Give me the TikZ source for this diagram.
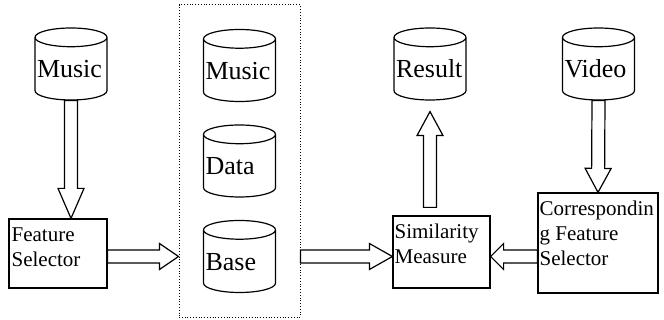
\documentclass[tikz,border=0pt]{standalone}
\usepackage{fontspec}
\setmainfont{Liberation Serif}
\newfontfamily\timesfont{Liberation Serif}
\usetikzlibrary{positioning,shapes.geometric,fit,calc}
\tikzset{
store/.style={
draw,
line width=1.2pt,
cylinder,
shape border rotate=90,
aspect=0.26,
anchor=shape center,
minimum width=72pt,
minimum height=72pt,
inner xsep=2pt,
text width=68pt,
align=left,
text height=14.6pt,
text depth=0pt,
font=\timesfont\fontsize{26}{30}\selectfont
},
block/.style={
draw,
line width=1.2pt
},
blocktext/.style={
align=left,
inner sep=0pt,
anchor=north west,
font=\timesfont\fontsize{21}{25}\selectfont
},
fat/.style={
draw,
line width=1.2pt,
fill=white,
line join=miter
}
}
% hollow block arrow from #2 to #3, head length #1
\newcommand{\fatarrow}[3][20]{%
\path[fat] let \p1=(#2), \p2=(#3),
\n1={atan2(\y2-\y1,\x2-\x1)}, \n2={veclen(\x2-\x1,\y2-\y1)} in
[shift={(\p1)}, rotate=\n1]
(0,-6.5) -- (\n2-#1,-6.5) -- (\n2-#1,-13) -- (\n2,0) -- (\n2-#1,13)
-- (\n2-#1,6.5) -- (0,6.5) -- cycle;}

\begin{document}
\begin{tikzpicture}[x=1pt,y=1pt]
\useasboundingbox (0,0) rectangle (664,320);

\node[store] (m1) at (71,256) {Music};
\node[store] (m2) at (239.5,254.5) {Music};
\node[store] (d) at (239.5,159) {Data};
\node[store] (b) at (239.5,63.5) {Base};
\node[store] (r) at (430,256) {Result};
\node[store] (v) at (598.5,256) {Video};
\node[draw, dotted, line width=0.8pt, inner sep=24pt, fit=(m2)(d)(b)] (dbase) {};

\node[block, minimum width=98pt, minimum height=69pt] (fs) at (58,66.5) {};
\node[block, minimum width=97pt, minimum height=72pt] (sim) at (441.5,68) {};
\node[block, minimum width=120pt, minimum height=100pt] (corr) at (598,77) {};
\node[blocktext] (fstext) at ($(fs.north west)+(3,-9)$) {Feature\\Selector};
\node[blocktext] (simtext) at ($(sim.north west)+(2,-8)$) {Similarity\\Measure};
\node[blocktext] (corrtext) at ($(corr.north west)+(2,-8)$) {Correspondin\\g Feature\\Selector};

\coordinate (fsin) at (m1.south |- fs.north);
\coordinate (fsout) at (fs.east |- b.shape center);
\coordinate (dbin) at (dbase.west |- b.shape center);
\coordinate (dbout) at (dbase.east |- b.shape center);
\coordinate (simin) at (sim.west |- b.shape center);
\coordinate (simside) at (sim.east |- b.shape center);
\coordinate (corrout) at (corr.west |- b.shape center);
\coordinate (simout) at ($(r.south |- sim.north)+(0,8)$);
\coordinate (rin) at ($(r.south)+(0,-11)$);

\foreach \src/\dst/\hl in {m1.south/fsin/30,fsout/dbin/19,dbout/simin/23,
corrout/simside/13,simout/rin/24,v.south/corr.north/24}
\fatarrow[\hl]{\src}{\dst};
\end{tikzpicture}
\end{document}
